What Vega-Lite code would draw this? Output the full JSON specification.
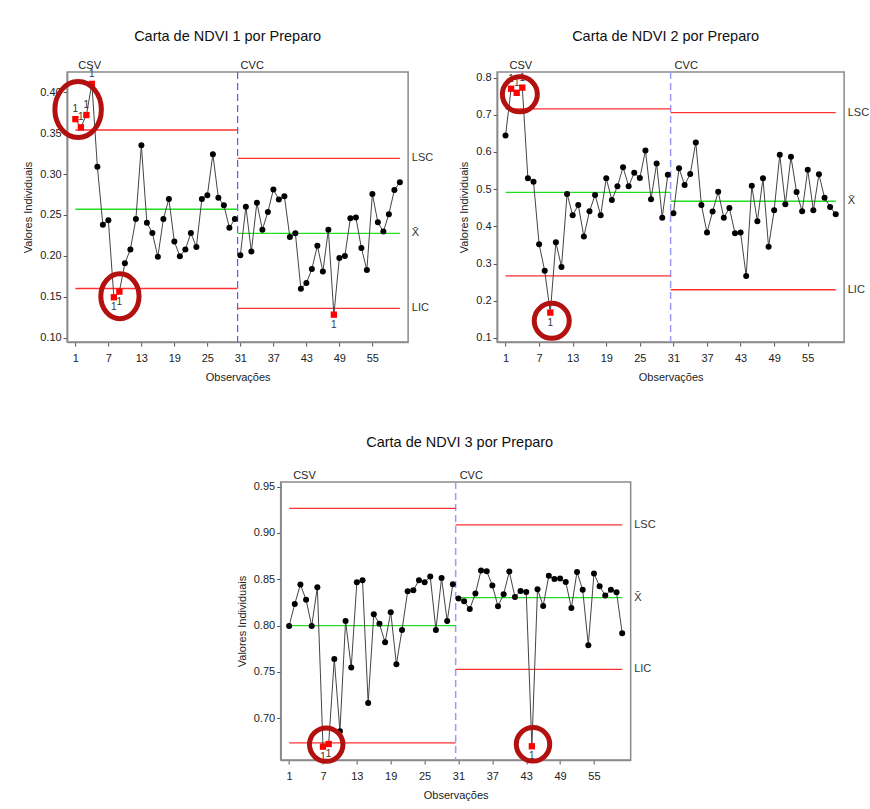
{
  "$schema": "https://vega.github.io/schema/vega-lite/v6.json",
  "background": "white",
  "padding": {"left": 21, "top": 27, "right": 0, "bottom": 0},
  "config": {
    "font": "Liberation Sans",
    "view": {"stroke": "#8a8a8a", "strokeWidth": 1.5},
    "axis": {"grid": false, "domainColor": "#8a8a8a", "domainWidth": 1.5, "tickColor": "#555", "tickSize": 4, "labelFontSize": 11, "labelColor": "#222", "titleFontSize": 11, "titleFontWeight": "normal", "titleColor": "#222", "labelFont": "Liberation Sans", "titleFont": "Liberation Sans", "labelOverlap": false},
    "axisY": {"titlePadding": 6},
    "axisX": {"titlePadding": 8, "labelPadding": 6},
    "title": {"fontSize": 14.5, "fontWeight": "normal", "color": "#111", "offset": 16, "font": "Liberation Sans"}
  },
  "datasets": {
    "obs": [
      {"carta":1,"obs":1,"valor":0.367,"preparo":"CSV","fora":"LSC"},
      {"carta":1,"obs":2,"valor":0.357,"preparo":"CSV","fora":"LSC"},
      {"carta":1,"obs":3,"valor":0.372,"preparo":"CSV","fora":"LSC"},
      {"carta":1,"obs":4,"valor":0.410,"preparo":"CSV","fora":"LSC"},
      {"carta":1,"obs":5,"valor":0.309,"preparo":"CSV","fora":""},
      {"carta":1,"obs":6,"valor":0.238,"preparo":"CSV","fora":""},
      {"carta":1,"obs":7,"valor":0.2435,"preparo":"CSV","fora":""},
      {"carta":1,"obs":8,"valor":0.1496,"preparo":"CSV","fora":"LIC"},
      {"carta":1,"obs":9,"valor":0.1565,"preparo":"CSV","fora":"LIC"},
      {"carta":1,"obs":10,"valor":0.191,"preparo":"CSV","fora":""},
      {"carta":1,"obs":11,"valor":0.208,"preparo":"CSV","fora":""},
      {"carta":1,"obs":12,"valor":0.245,"preparo":"CSV","fora":""},
      {"carta":1,"obs":13,"valor":0.335,"preparo":"CSV","fora":""},
      {"carta":1,"obs":14,"valor":0.2406,"preparo":"CSV","fora":""},
      {"carta":1,"obs":15,"valor":0.228,"preparo":"CSV","fora":""},
      {"carta":1,"obs":16,"valor":0.199,"preparo":"CSV","fora":""},
      {"carta":1,"obs":17,"valor":0.245,"preparo":"CSV","fora":""},
      {"carta":1,"obs":18,"valor":0.2695,"preparo":"CSV","fora":""},
      {"carta":1,"obs":19,"valor":0.2175,"preparo":"CSV","fora":""},
      {"carta":1,"obs":20,"valor":0.1996,"preparo":"CSV","fora":""},
      {"carta":1,"obs":21,"valor":0.208,"preparo":"CSV","fora":""},
      {"carta":1,"obs":22,"valor":0.228,"preparo":"CSV","fora":""},
      {"carta":1,"obs":23,"valor":0.211,"preparo":"CSV","fora":""},
      {"carta":1,"obs":24,"valor":0.2695,"preparo":"CSV","fora":""},
      {"carta":1,"obs":25,"valor":0.274,"preparo":"CSV","fora":""},
      {"carta":1,"obs":26,"valor":0.324,"preparo":"CSV","fora":""},
      {"carta":1,"obs":27,"valor":0.271,"preparo":"CSV","fora":""},
      {"carta":1,"obs":28,"valor":0.262,"preparo":"CSV","fora":""},
      {"carta":1,"obs":29,"valor":0.2345,"preparo":"CSV","fora":""},
      {"carta":1,"obs":30,"valor":0.245,"preparo":"CSV","fora":""},
      {"carta":1,"obs":31,"valor":0.201,"preparo":"CVC","fora":""},
      {"carta":1,"obs":32,"valor":0.26,"preparo":"CVC","fora":""},
      {"carta":1,"obs":33,"valor":0.2053,"preparo":"CVC","fora":""},
      {"carta":1,"obs":34,"valor":0.265,"preparo":"CVC","fora":""},
      {"carta":1,"obs":35,"valor":0.232,"preparo":"CVC","fora":""},
      {"carta":1,"obs":36,"valor":0.2537,"preparo":"CVC","fora":""},
      {"carta":1,"obs":37,"valor":0.281,"preparo":"CVC","fora":""},
      {"carta":1,"obs":38,"valor":0.269,"preparo":"CVC","fora":""},
      {"carta":1,"obs":39,"valor":0.273,"preparo":"CVC","fora":""},
      {"carta":1,"obs":40,"valor":0.223,"preparo":"CVC","fora":""},
      {"carta":1,"obs":41,"valor":0.2277,"preparo":"CVC","fora":""},
      {"carta":1,"obs":42,"valor":0.16,"preparo":"CVC","fora":""},
      {"carta":1,"obs":43,"valor":0.167,"preparo":"CVC","fora":""},
      {"carta":1,"obs":44,"valor":0.184,"preparo":"CVC","fora":""},
      {"carta":1,"obs":45,"valor":0.2126,"preparo":"CVC","fora":""},
      {"carta":1,"obs":46,"valor":0.181,"preparo":"CVC","fora":""},
      {"carta":1,"obs":47,"valor":0.232,"preparo":"CVC","fora":""},
      {"carta":1,"obs":48,"valor":0.1284,"preparo":"CVC","fora":"LIC"},
      {"carta":1,"obs":49,"valor":0.1976,"preparo":"CVC","fora":""},
      {"carta":1,"obs":50,"valor":0.2,"preparo":"CVC","fora":""},
      {"carta":1,"obs":51,"valor":0.246,"preparo":"CVC","fora":""},
      {"carta":1,"obs":52,"valor":0.247,"preparo":"CVC","fora":""},
      {"carta":1,"obs":53,"valor":0.2098,"preparo":"CVC","fora":""},
      {"carta":1,"obs":54,"valor":0.183,"preparo":"CVC","fora":""},
      {"carta":1,"obs":55,"valor":0.2756,"preparo":"CVC","fora":""},
      {"carta":1,"obs":56,"valor":0.241,"preparo":"CVC","fora":""},
      {"carta":1,"obs":57,"valor":0.2297,"preparo":"CVC","fora":""},
      {"carta":1,"obs":58,"valor":0.251,"preparo":"CVC","fora":""},
      {"carta":1,"obs":59,"valor":0.2805,"preparo":"CVC","fora":""},
      {"carta":1,"obs":60,"valor":0.290,"preparo":"CVC","fora":""},
      {"carta":2,"obs":1,"valor":0.644,"preparo":"CSV","fora":""},
      {"carta":2,"obs":2,"valor":0.770,"preparo":"CSV","fora":"LSC"},
      {"carta":2,"obs":3,"valor":0.759,"preparo":"CSV","fora":"LSC"},
      {"carta":2,"obs":4,"valor":0.773,"preparo":"CSV","fora":"LSC"},
      {"carta":2,"obs":5,"valor":0.529,"preparo":"CSV","fora":""},
      {"carta":2,"obs":6,"valor":0.520,"preparo":"CSV","fora":""},
      {"carta":2,"obs":7,"valor":0.352,"preparo":"CSV","fora":""},
      {"carta":2,"obs":8,"valor":0.2805,"preparo":"CSV","fora":""},
      {"carta":2,"obs":9,"valor":0.168,"preparo":"CSV","fora":"LIC"},
      {"carta":2,"obs":10,"valor":0.357,"preparo":"CSV","fora":""},
      {"carta":2,"obs":11,"valor":0.291,"preparo":"CSV","fora":""},
      {"carta":2,"obs":12,"valor":0.487,"preparo":"CSV","fora":""},
      {"carta":2,"obs":13,"valor":0.430,"preparo":"CSV","fora":""},
      {"carta":2,"obs":14,"valor":0.4575,"preparo":"CSV","fora":""},
      {"carta":2,"obs":15,"valor":0.3725,"preparo":"CSV","fora":""},
      {"carta":2,"obs":16,"valor":0.4405,"preparo":"CSV","fora":""},
      {"carta":2,"obs":17,"valor":0.4843,"preparo":"CSV","fora":""},
      {"carta":2,"obs":18,"valor":0.430,"preparo":"CSV","fora":""},
      {"carta":2,"obs":19,"valor":0.529,"preparo":"CSV","fora":""},
      {"carta":2,"obs":20,"valor":0.471,"preparo":"CSV","fora":""},
      {"carta":2,"obs":21,"valor":0.5076,"preparo":"CSV","fora":""},
      {"carta":2,"obs":22,"valor":0.559,"preparo":"CSV","fora":""},
      {"carta":2,"obs":23,"valor":0.508,"preparo":"CSV","fora":""},
      {"carta":2,"obs":24,"valor":0.544,"preparo":"CSV","fora":""},
      {"carta":2,"obs":25,"valor":0.53,"preparo":"CSV","fora":""},
      {"carta":2,"obs":26,"valor":0.604,"preparo":"CSV","fora":""},
      {"carta":2,"obs":27,"valor":0.473,"preparo":"CSV","fora":""},
      {"carta":2,"obs":28,"valor":0.569,"preparo":"CSV","fora":""},
      {"carta":2,"obs":29,"valor":0.4234,"preparo":"CSV","fora":""},
      {"carta":2,"obs":30,"valor":0.5388,"preparo":"CSV","fora":""},
      {"carta":2,"obs":31,"valor":0.4352,"preparo":"CVC","fora":""},
      {"carta":2,"obs":32,"valor":0.556,"preparo":"CVC","fora":""},
      {"carta":2,"obs":33,"valor":0.511,"preparo":"CVC","fora":""},
      {"carta":2,"obs":34,"valor":0.5406,"preparo":"CVC","fora":""},
      {"carta":2,"obs":35,"valor":0.6256,"preparo":"CVC","fora":""},
      {"carta":2,"obs":36,"valor":0.4575,"preparo":"CVC","fora":""},
      {"carta":2,"obs":37,"valor":0.3832,"preparo":"CVC","fora":""},
      {"carta":2,"obs":38,"valor":0.4396,"preparo":"CVC","fora":""},
      {"carta":2,"obs":39,"valor":0.493,"preparo":"CVC","fora":""},
      {"carta":2,"obs":40,"valor":0.4234,"preparo":"CVC","fora":""},
      {"carta":2,"obs":41,"valor":0.4494,"preparo":"CVC","fora":""},
      {"carta":2,"obs":42,"valor":0.3816,"preparo":"CVC","fora":""},
      {"carta":2,"obs":43,"valor":0.3832,"preparo":"CVC","fora":""},
      {"carta":2,"obs":44,"valor":0.2663,"preparo":"CVC","fora":""},
      {"carta":2,"obs":45,"valor":0.509,"preparo":"CVC","fora":""},
      {"carta":2,"obs":46,"valor":0.4137,"preparo":"CVC","fora":""},
      {"carta":2,"obs":47,"valor":0.529,"preparo":"CVC","fora":""},
      {"carta":2,"obs":48,"valor":0.345,"preparo":"CVC","fora":""},
      {"carta":2,"obs":49,"valor":0.4432,"preparo":"CVC","fora":""},
      {"carta":2,"obs":50,"valor":0.5924,"preparo":"CVC","fora":""},
      {"carta":2,"obs":51,"valor":0.4593,"preparo":"CVC","fora":""},
      {"carta":2,"obs":52,"valor":0.587,"preparo":"CVC","fora":""},
      {"carta":2,"obs":53,"valor":0.4923,"preparo":"CVC","fora":""},
      {"carta":2,"obs":54,"valor":0.4405,"preparo":"CVC","fora":""},
      {"carta":2,"obs":55,"valor":0.552,"preparo":"CVC","fora":""},
      {"carta":2,"obs":56,"valor":0.4432,"preparo":"CVC","fora":""},
      {"carta":2,"obs":57,"valor":0.540,"preparo":"CVC","fora":""},
      {"carta":2,"obs":58,"valor":0.477,"preparo":"CVC","fora":""},
      {"carta":2,"obs":59,"valor":0.452,"preparo":"CVC","fora":""},
      {"carta":2,"obs":60,"valor":0.4325,"preparo":"CVC","fora":""},
      {"carta":3,"obs":1,"valor":0.7997,"preparo":"CSV","fora":""},
      {"carta":3,"obs":2,"valor":0.8234,"preparo":"CSV","fora":""},
      {"carta":3,"obs":3,"valor":0.8444,"preparo":"CSV","fora":""},
      {"carta":3,"obs":4,"valor":0.8278,"preparo":"CSV","fora":""},
      {"carta":3,"obs":5,"valor":0.7997,"preparo":"CSV","fora":""},
      {"carta":3,"obs":6,"valor":0.8415,"preparo":"CSV","fora":""},
      {"carta":3,"obs":7,"valor":0.6694,"preparo":"CSV","fora":"LIC"},
      {"carta":3,"obs":8,"valor":0.6723,"preparo":"CSV","fora":"LIC"},
      {"carta":3,"obs":9,"valor":0.764,"preparo":"CSV","fora":""},
      {"carta":3,"obs":10,"valor":0.686,"preparo":"CSV","fora":""},
      {"carta":3,"obs":11,"valor":0.805,"preparo":"CSV","fora":""},
      {"carta":3,"obs":12,"valor":0.7547,"preparo":"CSV","fora":""},
      {"carta":3,"obs":13,"valor":0.8469,"preparo":"CSV","fora":""},
      {"carta":3,"obs":14,"valor":0.849,"preparo":"CSV","fora":""},
      {"carta":3,"obs":15,"valor":0.7165,"preparo":"CSV","fora":""},
      {"carta":3,"obs":16,"valor":0.8123,"preparo":"CSV","fora":""},
      {"carta":3,"obs":17,"valor":0.8019,"preparo":"CSV","fora":""},
      {"carta":3,"obs":18,"valor":0.782,"preparo":"CSV","fora":""},
      {"carta":3,"obs":19,"valor":0.8145,"preparo":"CSV","fora":""},
      {"carta":3,"obs":20,"valor":0.7583,"preparo":"CSV","fora":""},
      {"carta":3,"obs":21,"valor":0.7954,"preparo":"CSV","fora":""},
      {"carta":3,"obs":22,"valor":0.8371,"preparo":"CSV","fora":""},
      {"carta":3,"obs":23,"valor":0.8382,"preparo":"CSV","fora":""},
      {"carta":3,"obs":24,"valor":0.849,"preparo":"CSV","fora":""},
      {"carta":3,"obs":25,"valor":0.8469,"preparo":"CSV","fora":""},
      {"carta":3,"obs":26,"valor":0.853,"preparo":"CSV","fora":""},
      {"carta":3,"obs":27,"valor":0.7954,"preparo":"CSV","fora":""},
      {"carta":3,"obs":28,"valor":0.8515,"preparo":"CSV","fora":""},
      {"carta":3,"obs":29,"valor":0.805,"preparo":"CSV","fora":""},
      {"carta":3,"obs":30,"valor":0.8447,"preparo":"CSV","fora":""},
      {"carta":3,"obs":31,"valor":0.8293,"preparo":"CVC","fora":""},
      {"carta":3,"obs":32,"valor":0.8263,"preparo":"CVC","fora":""},
      {"carta":3,"obs":33,"valor":0.818,"preparo":"CVC","fora":""},
      {"carta":3,"obs":34,"valor":0.8347,"preparo":"CVC","fora":""},
      {"carta":3,"obs":35,"valor":0.8595,"preparo":"CVC","fora":""},
      {"carta":3,"obs":36,"valor":0.8587,"preparo":"CVC","fora":""},
      {"carta":3,"obs":37,"valor":0.8433,"preparo":"CVC","fora":""},
      {"carta":3,"obs":38,"valor":0.821,"preparo":"CVC","fora":""},
      {"carta":3,"obs":39,"valor":0.8339,"preparo":"CVC","fora":""},
      {"carta":3,"obs":40,"valor":0.8584,"preparo":"CVC","fora":""},
      {"carta":3,"obs":41,"valor":0.831,"preparo":"CVC","fora":""},
      {"carta":3,"obs":42,"valor":0.8375,"preparo":"CVC","fora":""},
      {"carta":3,"obs":43,"valor":0.8364,"preparo":"CVC","fora":""},
      {"carta":3,"obs":44,"valor":0.6698,"preparo":"CVC","fora":"LIC"},
      {"carta":3,"obs":45,"valor":0.8393,"preparo":"CVC","fora":""},
      {"carta":3,"obs":46,"valor":0.8213,"preparo":"CVC","fora":""},
      {"carta":3,"obs":47,"valor":0.8537,"preparo":"CVC","fora":""},
      {"carta":3,"obs":48,"valor":0.8504,"preparo":"CVC","fora":""},
      {"carta":3,"obs":49,"valor":0.8508,"preparo":"CVC","fora":""},
      {"carta":3,"obs":50,"valor":0.8472,"preparo":"CVC","fora":""},
      {"carta":3,"obs":51,"valor":0.8191,"preparo":"CVC","fora":""},
      {"carta":3,"obs":52,"valor":0.858,"preparo":"CVC","fora":""},
      {"carta":3,"obs":53,"valor":0.8386,"preparo":"CVC","fora":""},
      {"carta":3,"obs":54,"valor":0.7788,"preparo":"CVC","fora":""},
      {"carta":3,"obs":55,"valor":0.8563,"preparo":"CVC","fora":""},
      {"carta":3,"obs":56,"valor":0.8425,"preparo":"CVC","fora":""},
      {"carta":3,"obs":57,"valor":0.8325,"preparo":"CVC","fora":""},
      {"carta":3,"obs":58,"valor":0.8386,"preparo":"CVC","fora":""},
      {"carta":3,"obs":59,"valor":0.8361,"preparo":"CVC","fora":""},
      {"carta":3,"obs":60,"valor":0.7918,"preparo":"CVC","fora":""}
    ],
    "limites": [
      {"carta":1,"preparo":"CSV","linha":"LSC","obs":1,"obs_fim":30.5,"valor":0.3537},
      {"carta":1,"preparo":"CSV","linha":"X\u0304","obs":1,"obs_fim":30.5,"valor":0.2570},
      {"carta":1,"preparo":"CSV","linha":"LIC","obs":1,"obs_fim":30.5,"valor":0.1603},
      {"carta":1,"preparo":"CVC","linha":"LSC","obs":30.5,"obs_fim":60,"valor":0.3190},
      {"carta":1,"preparo":"CVC","linha":"X\u0304","obs":30.5,"obs_fim":60,"valor":0.2275},
      {"carta":1,"preparo":"CVC","linha":"LIC","obs":30.5,"obs_fim":60,"valor":0.1360},
      {"carta":2,"preparo":"CSV","linha":"LSC","obs":1,"obs_fim":30.5,"valor":0.716},
      {"carta":2,"preparo":"CSV","linha":"X\u0304","obs":1,"obs_fim":30.5,"valor":0.4915},
      {"carta":2,"preparo":"CSV","linha":"LIC","obs":1,"obs_fim":30.5,"valor":0.267},
      {"carta":2,"preparo":"CVC","linha":"LSC","obs":30.5,"obs_fim":60,"valor":0.706},
      {"carta":2,"preparo":"CVC","linha":"X\u0304","obs":30.5,"obs_fim":60,"valor":0.4674},
      {"carta":2,"preparo":"CVC","linha":"LIC","obs":30.5,"obs_fim":60,"valor":0.2295},
      {"carta":3,"preparo":"CSV","linha":"LSC","obs":1,"obs_fim":30.5,"valor":0.9265},
      {"carta":3,"preparo":"CSV","linha":"X\u0304","obs":1,"obs_fim":30.5,"valor":0.8000},
      {"carta":3,"preparo":"CSV","linha":"LIC","obs":1,"obs_fim":30.5,"valor":0.6735},
      {"carta":3,"preparo":"CVC","linha":"LSC","obs":30.5,"obs_fim":60,"valor":0.9088},
      {"carta":3,"preparo":"CVC","linha":"X\u0304","obs":30.5,"obs_fim":60,"valor":0.8303},
      {"carta":3,"preparo":"CVC","linha":"LIC","obs":30.5,"obs_fim":60,"valor":0.7529}
    ],
    "destaques": [
      {"carta":1,"limite":"LSC","obs":1.5,"valor":0.3787},
      {"carta":1,"limite":"LIC","obs":9.1,"valor":0.1509},
      {"carta":2,"limite":"LSC","obs":3.56,"valor":0.755},
      {"carta":2,"limite":"LIC","obs":9.26,"valor":0.1459},
      {"carta":3,"limite":"LIC","obs":7.57,"valor":0.6716},
      {"carta":3,"limite":"LIC","obs":44.2,"valor":0.6719}
    ]
  },
  "center": true,
  "spacing": 50,
  "vconcat": [
    {
      "spacing": 23,
      "hconcat": [
        {
          "title": {"text": "Carta de NDVI 1 por Preparo", "dx": -10},
          "width": 341, "height": 270,
          "layer": [
            {"data": {"name": "limites"}, "transform": [{"filter": "datum.carta == 1 && datum.preparo == 'CVC' && datum.linha == 'LSC'"}],
             "mark": {"type": "rule", "color": "#5b5bf0", "strokeDash": [7, 4], "strokeWidth": 1.2},
             "encoding": {"x": {"field": "obs", "type": "quantitative", "scale": {"domain": [-0.5, 61.5], "nice": false, "zero": false}, "axis": {"title": "Observações", "values": [1,7,13,19,25,31,37,43,49,55], "tickCount": 30, "labelOverlap": false}}}},
            {"data": {"name": "limites"}, "transform": [{"filter": "datum.carta == 1"}],
             "mark": {"type": "rule", "strokeWidth": 1.3},
             "encoding": {"x": {"field": "obs", "type": "quantitative", "scale": {"domain": [-0.5, 61.5], "nice": false, "zero": false}},
                          "x2": {"field": "obs_fim"},
                          "y": {"field": "valor", "type": "quantitative", "scale": {"domain": [0.095, 0.4245], "nice": false, "zero": false}, "axis": {"title": "Valores Individuais", "values": [0.1,0.15,0.2,0.25,0.3,0.35,0.4], "tickCount": 30, "format": ".2f", "labelOverlap": false}},
                          "color": {"field": "linha", "type": "nominal", "scale": {"domain": ["LSC","X\u0304","LIC"], "range": ["#ff3030","#22dd22","#ff3030"]}, "legend": null}}},
            {"data": {"name": "limites"}, "transform": [{"filter": "datum.carta == 1 && datum.preparo == 'CVC'"}],
             "mark": {"type": "text", "align": "left", "baseline": "middle", "dx": 12, "fontSize": 11, "color": "#333"},
             "encoding": {"x": {"field": "obs_fim", "type": "quantitative", "scale": {"domain": [-0.5, 61.5], "nice": false, "zero": false}},
                          "y": {"field": "valor", "type": "quantitative", "scale": {"domain": [0.095, 0.4245], "nice": false, "zero": false}},
                          "text": {"field": "linha"}}},
            {"data": {"name": "limites"}, "transform": [{"filter": "datum.carta == 1 && datum.linha == 'LSC'"}],
             "mark": {"type": "text", "align": "left", "baseline": "bottom", "dx": 3, "dy": -1, "fontSize": 11, "color": "#222"},
             "encoding": {"x": {"field": "obs", "type": "quantitative", "scale": {"domain": [-0.5, 61.5], "nice": false, "zero": false}},
                          "y": {"datum": 0.4245, "type": "quantitative", "scale": {"domain": [0.095, 0.4245], "nice": false, "zero": false}},
                          "text": {"field": "preparo"}}},
            {"data": {"name": "obs"}, "transform": [{"filter": "datum.carta == 1"}],
             "mark": {"type": "line", "color": "#444", "strokeWidth": 1},
             "encoding": {"x": {"field": "obs", "type": "quantitative", "scale": {"domain": [-0.5, 61.5], "nice": false, "zero": false}},
                          "y": {"field": "valor", "type": "quantitative", "scale": {"domain": [0.095, 0.4245], "nice": false, "zero": false}},
                          "detail": {"field": "preparo"}}},
            {"data": {"name": "obs"}, "transform": [{"filter": "datum.carta == 1 && datum.fora == ''"}],
             "mark": {"type": "circle", "color": "#000", "size": 36, "opacity": 1},
             "encoding": {"x": {"field": "obs", "type": "quantitative"}, "y": {"field": "valor", "type": "quantitative"}}},
            {"data": {"name": "obs"}, "transform": [{"filter": "datum.carta == 1 && datum.fora != ''"}],
             "mark": {"type": "square", "color": "#ff0000", "size": 40, "opacity": 1},
             "encoding": {"x": {"field": "obs", "type": "quantitative"}, "y": {"field": "valor", "type": "quantitative"}}},
            {"data": {"name": "obs"}, "transform": [{"filter": "datum.carta == 1 && datum.fora == 'LSC'"}],
             "mark": {"type": "text", "baseline": "bottom", "dy": -5, "fontSize": 10, "color": "#333"},
             "encoding": {"x": {"field": "obs", "type": "quantitative"}, "y": {"field": "valor", "type": "quantitative"}, "text": {"value": "1"}}},
            {"data": {"name": "obs"}, "transform": [{"filter": "datum.carta == 1 && datum.fora == 'LIC'"}],
             "mark": {"type": "text", "baseline": "top", "dy": 5, "fontSize": 10, "color": "#333"},
             "encoding": {"x": {"field": "obs", "type": "quantitative"}, "y": {"field": "valor", "type": "quantitative"}, "text": {"value": "1"}}},
            {"data": {"name": "destaques"}, "transform": [{"filter": "datum.carta == 1 && datum.limite == 'LSC'"}],
             "mark": {"type": "point", "shape": "M0,-1A0.83,1,0,1,1,0,1A0.83,1,0,1,1,0,-1Z", "size": 3136, "filled": false, "stroke": "#b31010", "strokeWidth": 5, "opacity": 1},
             "encoding": {"x": {"field": "obs", "type": "quantitative"}, "y": {"field": "valor", "type": "quantitative"}}},
            {"data": {"name": "destaques"}, "transform": [{"filter": "datum.carta == 1 && datum.limite == 'LIC'"}],
             "mark": {"type": "point", "shape": "M0,-1A0.85,1,0,1,1,0,1A0.85,1,0,1,1,0,-1Z", "size": 2025, "filled": false, "stroke": "#b31010", "strokeWidth": 5, "opacity": 1},
             "encoding": {"x": {"field": "obs", "type": "quantitative"}, "y": {"field": "valor", "type": "quantitative"}}}
          ]
        },
        {
          "title": {"text": "Carta de NDVI 2 por Preparo", "dx": -5},
          "width": 347, "height": 270,
          "layer": [
            {"data": {"name": "limites"}, "transform": [{"filter": "datum.carta == 2 && datum.preparo == 'CVC' && datum.linha == 'LSC'"}],
             "mark": {"type": "rule", "color": "#9a9af8", "strokeDash": [7, 4], "strokeWidth": 1.5},
             "encoding": {"x": {"field": "obs", "type": "quantitative", "scale": {"domain": [-0.5, 61.5], "nice": false, "zero": false}, "axis": {"title": "Observações", "values": [1,7,13,19,25,31,37,43,49,55], "tickCount": 30, "labelOverlap": false}}}},
            {"data": {"name": "limites"}, "transform": [{"filter": "datum.carta == 2"}],
             "mark": {"type": "rule", "strokeWidth": 1.3},
             "encoding": {"x": {"field": "obs", "type": "quantitative", "scale": {"domain": [-0.5, 61.5], "nice": false, "zero": false}},
                          "x2": {"field": "obs_fim"},
                          "y": {"field": "valor", "type": "quantitative", "scale": {"domain": [0.089, 0.815], "nice": false, "zero": false}, "axis": {"title": "Valores Individuais", "values": [0.1,0.2,0.3,0.4,0.5,0.6,0.7,0.8], "tickCount": 30, "format": ".1f", "labelOverlap": false}},
                          "color": {"field": "linha", "type": "nominal", "scale": {"domain": ["LSC","X\u0304","LIC"], "range": ["#ff3030","#22dd22","#ff3030"]}, "legend": null}}},
            {"data": {"name": "limites"}, "transform": [{"filter": "datum.carta == 2 && datum.preparo == 'CVC'"}],
             "mark": {"type": "text", "align": "left", "baseline": "middle", "dx": 12, "fontSize": 11, "color": "#333"},
             "encoding": {"x": {"field": "obs_fim", "type": "quantitative", "scale": {"domain": [-0.5, 61.5], "nice": false, "zero": false}},
                          "y": {"field": "valor", "type": "quantitative", "scale": {"domain": [0.089, 0.815], "nice": false, "zero": false}},
                          "text": {"field": "linha"}}},
            {"data": {"name": "limites"}, "transform": [{"filter": "datum.carta == 2 && datum.linha == 'LSC'"}],
             "mark": {"type": "text", "align": "left", "baseline": "bottom", "dx": 4, "dy": -1, "fontSize": 11, "color": "#222"},
             "encoding": {"x": {"field": "obs", "type": "quantitative", "scale": {"domain": [-0.5, 61.5], "nice": false, "zero": false}},
                          "y": {"datum": 0.815, "type": "quantitative", "scale": {"domain": [0.089, 0.815], "nice": false, "zero": false}},
                          "text": {"field": "preparo"}}},
            {"data": {"name": "obs"}, "transform": [{"filter": "datum.carta == 2"}],
             "mark": {"type": "line", "color": "#444", "strokeWidth": 1},
             "encoding": {"x": {"field": "obs", "type": "quantitative", "scale": {"domain": [-0.5, 61.5], "nice": false, "zero": false}},
                          "y": {"field": "valor", "type": "quantitative", "scale": {"domain": [0.089, 0.815], "nice": false, "zero": false}},
                          "detail": {"field": "preparo"}}},
            {"data": {"name": "obs"}, "transform": [{"filter": "datum.carta == 2 && datum.fora == ''"}],
             "mark": {"type": "circle", "color": "#000", "size": 36, "opacity": 1},
             "encoding": {"x": {"field": "obs", "type": "quantitative"}, "y": {"field": "valor", "type": "quantitative"}}},
            {"data": {"name": "obs"}, "transform": [{"filter": "datum.carta == 2 && datum.fora != ''"}],
             "mark": {"type": "square", "color": "#ff0000", "size": 40, "opacity": 1},
             "encoding": {"x": {"field": "obs", "type": "quantitative"}, "y": {"field": "valor", "type": "quantitative"}}},
            {"data": {"name": "obs"}, "transform": [{"filter": "datum.carta == 2 && datum.fora == 'LSC'"}],
             "mark": {"type": "text", "baseline": "bottom", "dy": -5, "fontSize": 10, "color": "#333"},
             "encoding": {"x": {"field": "obs", "type": "quantitative"}, "y": {"field": "valor", "type": "quantitative"}, "text": {"value": "1"}}},
            {"data": {"name": "obs"}, "transform": [{"filter": "datum.carta == 2 && datum.fora == 'LIC'"}],
             "mark": {"type": "text", "baseline": "top", "dy": 5, "fontSize": 10, "color": "#333"},
             "encoding": {"x": {"field": "obs", "type": "quantitative"}, "y": {"field": "valor", "type": "quantitative"}, "text": {"value": "1"}}},
            {"data": {"name": "destaques"}, "transform": [{"filter": "datum.carta == 2"}],
             "mark": {"type": "point", "shape": "circle", "size": 1225, "filled": false, "stroke": "#b31010", "strokeWidth": 5, "opacity": 1},
             "encoding": {"x": {"field": "obs", "type": "quantitative"}, "y": {"field": "valor", "type": "quantitative"}}}
          ]
        }
      ]
    },
    {
      "title": {"text": "Carta de NDVI 3 por Preparo", "dx": 4, "offset": 20},
      "width": 350, "height": 278,
      "layer": [
        {"data": {"name": "limites"}, "transform": [{"filter": "datum.carta == 3 && datum.preparo == 'CVC' && datum.linha == 'LSC'"}],
         "mark": {"type": "rule", "color": "#9a9af8", "strokeDash": [7, 4], "strokeWidth": 1.5},
         "encoding": {"x": {"field": "obs", "type": "quantitative", "scale": {"domain": [-0.5, 61.5], "nice": false, "zero": false}, "axis": {"title": "Observações", "values": [1,7,13,19,25,31,37,43,49,55], "tickCount": 30, "labelOverlap": false}}}},
        {"data": {"name": "limites"}, "transform": [{"filter": "datum.carta == 3"}],
         "mark": {"type": "rule", "strokeWidth": 1.3},
         "encoding": {"x": {"field": "obs", "type": "quantitative", "scale": {"domain": [-0.5, 61.5], "nice": false, "zero": false}},
                      "x2": {"field": "obs_fim"},
                      "y": {"field": "valor", "type": "quantitative", "scale": {"domain": [0.655, 0.955], "nice": false, "zero": false}, "axis": {"title": "Valores Individuais", "values": [0.7,0.75,0.8,0.85,0.9,0.95], "tickCount": 30, "format": ".2f", "labelOverlap": false}},
                      "color": {"field": "linha", "type": "nominal", "scale": {"domain": ["LSC","X\u0304","LIC"], "range": ["#ff3030","#22dd22","#ff3030"]}, "legend": null}}},
        {"data": {"name": "limites"}, "transform": [{"filter": "datum.carta == 3 && datum.preparo == 'CVC'"}],
         "mark": {"type": "text", "align": "left", "baseline": "middle", "dx": 12, "fontSize": 11, "color": "#333"},
         "encoding": {"x": {"field": "obs_fim", "type": "quantitative", "scale": {"domain": [-0.5, 61.5], "nice": false, "zero": false}},
                      "y": {"field": "valor", "type": "quantitative", "scale": {"domain": [0.655, 0.955], "nice": false, "zero": false}},
                      "text": {"field": "linha"}}},
        {"data": {"name": "limites"}, "transform": [{"filter": "datum.carta == 3 && datum.linha == 'LSC'"}],
         "mark": {"type": "text", "align": "left", "baseline": "bottom", "dx": 4, "dy": -1, "fontSize": 11, "color": "#222"},
         "encoding": {"x": {"field": "obs", "type": "quantitative", "scale": {"domain": [-0.5, 61.5], "nice": false, "zero": false}},
                      "y": {"datum": 0.955, "type": "quantitative", "scale": {"domain": [0.655, 0.955], "nice": false, "zero": false}},
                      "text": {"field": "preparo"}}},
        {"data": {"name": "obs"}, "transform": [{"filter": "datum.carta == 3"}],
         "mark": {"type": "line", "color": "#444", "strokeWidth": 1},
         "encoding": {"x": {"field": "obs", "type": "quantitative", "scale": {"domain": [-0.5, 61.5], "nice": false, "zero": false}},
                      "y": {"field": "valor", "type": "quantitative", "scale": {"domain": [0.655, 0.955], "nice": false, "zero": false}},
                      "detail": {"field": "preparo"}}},
        {"data": {"name": "obs"}, "transform": [{"filter": "datum.carta == 3 && datum.fora == ''"}],
         "mark": {"type": "circle", "color": "#000", "size": 36, "opacity": 1},
         "encoding": {"x": {"field": "obs", "type": "quantitative"}, "y": {"field": "valor", "type": "quantitative"}}},
        {"data": {"name": "obs"}, "transform": [{"filter": "datum.carta == 3 && datum.fora != ''"}],
         "mark": {"type": "square", "color": "#ff0000", "size": 40, "opacity": 1},
         "encoding": {"x": {"field": "obs", "type": "quantitative"}, "y": {"field": "valor", "type": "quantitative"}}},
        {"data": {"name": "obs"}, "transform": [{"filter": "datum.carta == 3 && datum.fora == 'LIC'"}],
         "mark": {"type": "text", "baseline": "top", "dy": 5, "fontSize": 10, "color": "#333"},
         "encoding": {"x": {"field": "obs", "type": "quantitative"}, "y": {"field": "valor", "type": "quantitative"}, "text": {"value": "1"}}},
        {"data": {"name": "destaques"}, "transform": [{"filter": "datum.carta == 3"}],
         "mark": {"type": "point", "shape": "circle", "size": 1120, "filled": false, "stroke": "#b31010", "strokeWidth": 5, "opacity": 1},
         "encoding": {"x": {"field": "obs", "type": "quantitative"}, "y": {"field": "valor", "type": "quantitative"}}}
      ]
    }
  ]
}
